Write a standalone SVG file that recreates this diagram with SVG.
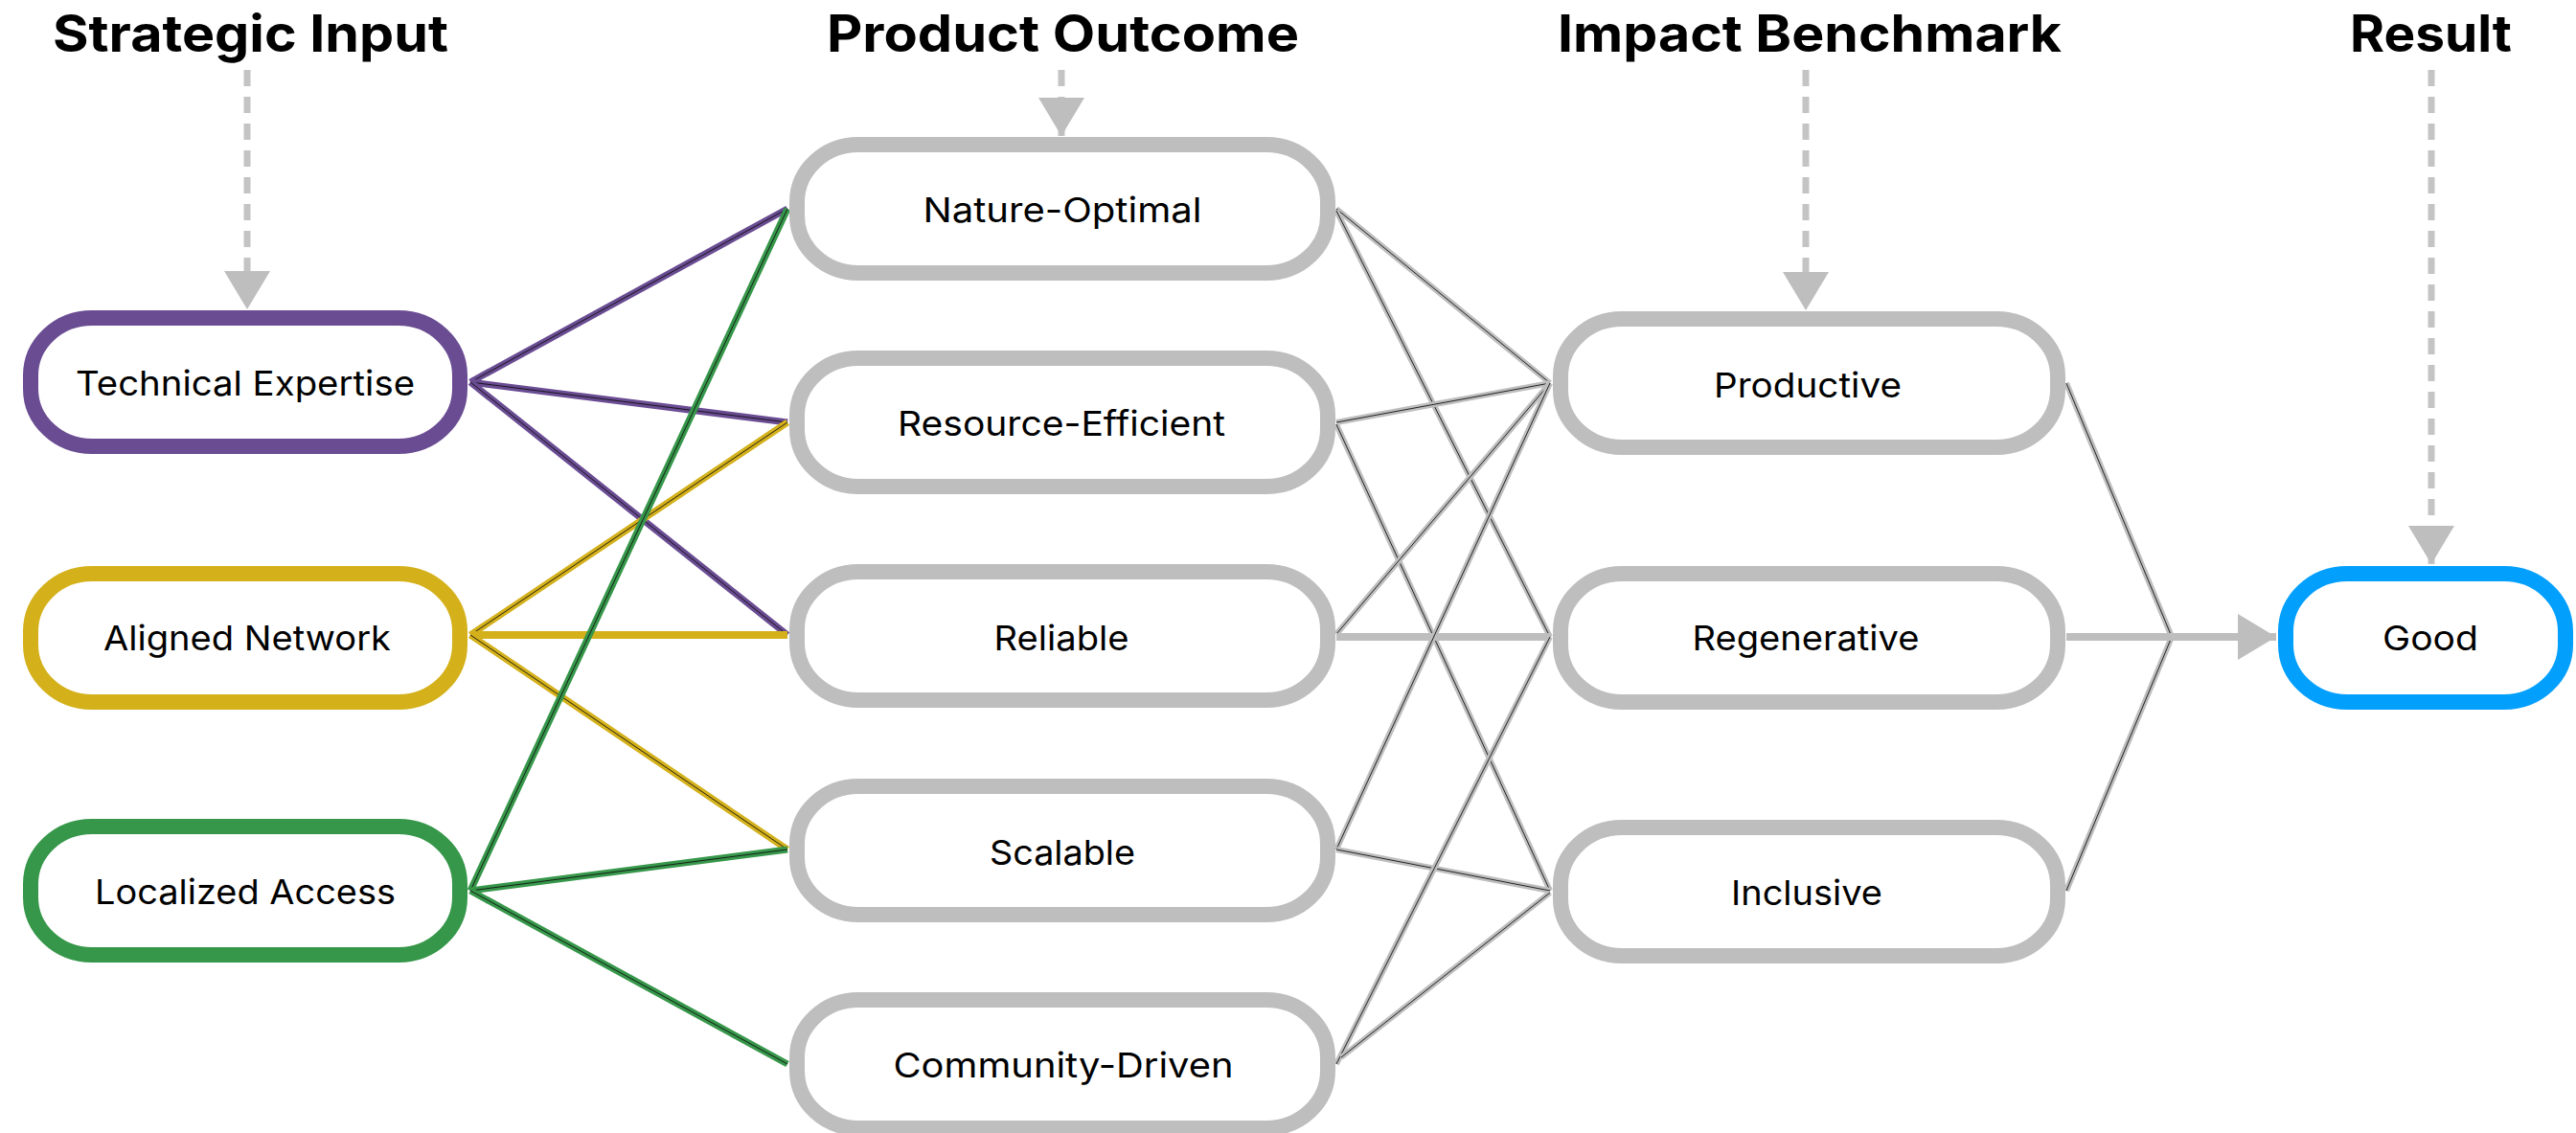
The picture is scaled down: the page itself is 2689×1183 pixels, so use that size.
<svg xmlns="http://www.w3.org/2000/svg" width="2689" height="1183" viewBox="0 0 2689 1183">
<style>
.title{font-family:Inter,"Liberation Sans",sans-serif;font-weight:700;font-size:54px;fill:#000;text-anchor:middle}
.label{font-family:Inter,"Liberation Sans",sans-serif;font-weight:400;font-size:36px;fill:#000;text-anchor:middle}
.node{fill:#fff;stroke-width:16}
.n-purple{stroke:#6A4C93}
.n-yellow{stroke:#D4B11B}
.n-green{stroke:#36974A}
.n-gray{stroke:#BEBEBE}
.n-blue{stroke:#039FFD}
.dash{stroke:#C4C4C4;stroke-width:7;stroke-dasharray:17 11;fill:none}
.e{fill:none;stroke-linecap:butt}
.purple{stroke:#6A4C93;stroke-width:7}
.yellow{stroke:#D4B11B;stroke-width:7}
.green{stroke:#36974A;stroke-width:7}
.gray{stroke:#BEBEBE;stroke-width:6}
.hy{stroke:#D4B11B;stroke-width:8}
.hg{stroke:#BEBEBE;stroke-width:8}
.core{stroke:#111;stroke-width:0.9}
</style>
<defs>
<marker id="ah" markerUnits="userSpaceOnUse" viewBox="0 0 40 48" refX="40" refY="24" markerWidth="40" markerHeight="48" orient="auto">
<path d="M0,0 L40,24 L0,48 Z" fill="#BEBEBE"/>
</marker>
</defs>
<rect width="2689" height="1183" fill="#fff"/>

<g id="titles">
<text class="title" x="261.5" y="54" textLength="413" lengthAdjust="spacingAndGlyphs">Strategic Input</text>
<text class="title" x="1109.5" y="54" textLength="493" lengthAdjust="spacingAndGlyphs">Product Outcome</text>
<text class="title" x="1889" y="54" textLength="526" lengthAdjust="spacingAndGlyphs">Impact Benchmark</text>
<text class="title" x="2537.5" y="54" textLength="169" lengthAdjust="spacingAndGlyphs">Result</text>
<line class="dash" x1="258" y1="73" x2="258" y2="323" marker-end="url(#ah)"/>
<line class="dash" x1="1108" y1="73" x2="1108" y2="142" marker-end="url(#ah)"/>
<line class="dash" x1="1885" y1="73" x2="1885" y2="324" marker-end="url(#ah)"/>
<line class="dash" x1="2538" y1="73" x2="2538" y2="589" marker-end="url(#ah)"/>
</g>

<g id="connectors">
<line class="e purple" x1="491" y1="399" x2="822" y2="218"/><line class="e core" x1="491" y1="399" x2="822" y2="218"/>
<line class="e purple" x1="491" y1="399" x2="822" y2="441"/><line class="e core" x1="491" y1="399" x2="822" y2="441"/>
<line class="e purple" x1="491" y1="399" x2="822" y2="663"/><line class="e core" x1="491" y1="399" x2="822" y2="663"/>
<line class="e yellow" x1="491" y1="663" x2="822" y2="441"/><line class="e core" x1="491" y1="663" x2="822" y2="441"/>
<line class="e hy" x1="491" y1="663" x2="822" y2="663"/>
<line class="e yellow" x1="491" y1="663" x2="822" y2="887"/><line class="e core" x1="491" y1="663" x2="822" y2="887"/>
<line class="e green" x1="491" y1="930" x2="822" y2="218"/><line class="e core" x1="491" y1="930" x2="822" y2="218"/>
<line class="e green" x1="491" y1="930" x2="822" y2="887"/><line class="e core" x1="491" y1="930" x2="822" y2="887"/>
<line class="e green" x1="491" y1="930" x2="822" y2="1111"/><line class="e core" x1="491" y1="930" x2="822" y2="1111"/>
<line class="e gray" x1="1395" y1="218" x2="1618" y2="400"/><line class="e core" x1="1395" y1="218" x2="1618" y2="400"/>
<line class="e gray" x1="1395" y1="220" x2="1618" y2="665"/><line class="e core" x1="1395" y1="220" x2="1618" y2="665"/>
<line class="e gray" x1="1395" y1="441" x2="1618" y2="400"/><line class="e core" x1="1395" y1="441" x2="1618" y2="400"/>
<line class="e gray" x1="1395" y1="443" x2="1618" y2="930"/><line class="e core" x1="1395" y1="443" x2="1618" y2="930"/>
<line class="e gray" x1="1395" y1="662" x2="1618" y2="400"/><line class="e core" x1="1395" y1="662" x2="1618" y2="400"/>
<line class="e hg" x1="1395" y1="665" x2="1618" y2="665"/>
<line class="e gray" x1="1395" y1="887" x2="1618" y2="400"/><line class="e core" x1="1395" y1="887" x2="1618" y2="400"/>
<line class="e gray" x1="1395" y1="887" x2="1618" y2="930"/><line class="e core" x1="1395" y1="887" x2="1618" y2="930"/>
<line class="e gray" x1="1395" y1="1111" x2="1618" y2="665"/><line class="e core" x1="1395" y1="1111" x2="1618" y2="665"/>
<line class="e gray" x1="1400" y1="1104" x2="1618" y2="932"/><line class="e core" x1="1400" y1="1104" x2="1618" y2="932"/>
<line class="e gray" x1="2157" y1="400" x2="2267" y2="665"/><line class="e core" x1="2157" y1="400" x2="2267" y2="665"/>
<line class="e gray" x1="2157" y1="930" x2="2267" y2="665"/><line class="e core" x1="2157" y1="930" x2="2267" y2="665"/>
<line class="e hg" x1="2157" y1="665" x2="2376" y2="665" marker-end="url(#ah)"/>
</g>

<g id="node-technical-expertise"><rect class="node n-purple" x="32" y="332" width="448" height="134" rx="64" ry="60"/><text class="label" x="256" y="413" textLength="354" lengthAdjust="spacingAndGlyphs">Technical Expertise</text></g>
<g id="node-aligned-network"><rect class="node n-yellow" x="32" y="599" width="448" height="134" rx="64" ry="60"/><text class="label" x="258" y="679" textLength="300" lengthAdjust="spacingAndGlyphs">Aligned Network</text></g>
<g id="node-localized-access"><rect class="node n-green" x="32" y="863" width="448" height="134" rx="64" ry="60"/><text class="label" x="256" y="944" textLength="314" lengthAdjust="spacingAndGlyphs">Localized Access</text></g>

<g id="node-nature-optimal"><rect class="node n-gray" x="832" y="151" width="554" height="134" rx="64" ry="60"/><text class="label" x="1109" y="232" textLength="291" lengthAdjust="spacingAndGlyphs">Nature-Optimal</text></g>
<g id="node-resource-efficient"><rect class="node n-gray" x="832" y="374" width="554" height="134" rx="64" ry="60"/><text class="label" x="1108" y="455" textLength="342" lengthAdjust="spacingAndGlyphs">Resource-Efficient</text></g>
<g id="node-reliable"><rect class="node n-gray" x="832" y="597" width="554" height="134" rx="64" ry="60"/><text class="label" x="1108" y="679" textLength="141" lengthAdjust="spacingAndGlyphs">Reliable</text></g>
<g id="node-scalable"><rect class="node n-gray" x="832" y="821" width="554" height="134" rx="64" ry="60"/><text class="label" x="1109" y="903" textLength="152" lengthAdjust="spacingAndGlyphs">Scalable</text></g>
<g id="node-community-driven"><rect class="node n-gray" x="832" y="1044" width="554" height="134" rx="64" ry="60"/><text class="label" x="1110" y="1125" textLength="355" lengthAdjust="spacingAndGlyphs">Community-Driven</text></g>

<g id="node-productive"><rect class="node n-gray" x="1629" y="333" width="519" height="134" rx="64" ry="60"/><text class="label" x="1887" y="415" textLength="196" lengthAdjust="spacingAndGlyphs">Productive</text></g>
<g id="node-regenerative"><rect class="node n-gray" x="1629" y="599" width="519" height="134" rx="64" ry="60"/><text class="label" x="1885" y="679" textLength="237" lengthAdjust="spacingAndGlyphs">Regenerative</text></g>
<g id="node-inclusive"><rect class="node n-gray" x="1629" y="864" width="519" height="134" rx="64" ry="60"/><text class="label" x="1886" y="945" textLength="158" lengthAdjust="spacingAndGlyphs">Inclusive</text></g>

<g id="node-good"><rect class="node n-blue" x="2386" y="599" width="292" height="134" rx="64" ry="60"/><text class="label" x="2537" y="679" textLength="100" lengthAdjust="spacingAndGlyphs">Good</text></g>
</svg>
